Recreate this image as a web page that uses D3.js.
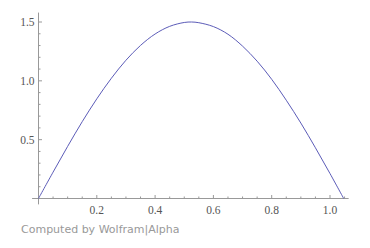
<!DOCTYPE html>
<html>
<head>
<meta charset="utf-8">
<script src="https://cdn.jsdelivr.net/npm/d3@7"></script>
<style>
  body { margin: 0; background: #fff; }
  svg { display: block; }
</style>
</head>
<body>
<div id="chart"></div>
<script>
// values
var xs = [0, 0.05, 0.1, 0.15, 0.2, 0.25, 0.3, 0.35, 0.4, 0.45, 0.5, 0.525,
          0.55, 0.6, 0.65, 0.7, 0.75, 0.8, 0.85, 0.9, 0.95, 1.0, 1.047];
var ys = [0, 0.224, 0.443, 0.653, 0.847, 1.022, 1.175, 1.301, 1.398, 1.463, 1.496, 1.5,
          1.494, 1.461, 1.396, 1.295, 1.167, 1.013, 0.835, 0.641, 0.431, 0.212, 0];

var xMajor = [0.2, 0.4, 0.6, 0.8, 1.0];
var xMinor = [0.05, 0.1, 0.15, 0.25, 0.3, 0.35, 0.45, 0.5, 0.55, 0.65, 0.7, 0.75, 0.85, 0.9, 0.95, 1.05];
var yMajor = [0.5, 1.0, 1.5];
var yMinor = [0.1, 0.2, 0.3, 0.4, 0.6, 0.7, 0.8, 0.9, 1.1, 1.2, 1.3, 1.4];

var width = 370, height = 248;
var axisColor = "#999";
var labelColor = "#555";

var svg = d3.select("#chart").append("svg")
  .attr("width", width)
  .attr("height", height);

var x = d3.scaleLinear().domain([0, 1]).range([38.5, 330]);
var y = d3.scaleLinear().domain([0, 1.5]).range([198.5, 22]);

// axis lines
svg.append("line")
  .attr("x1", x(-0.022)).attr("x2", x(1.064))
  .attr("y1", y(0)).attr("y2", y(0))
  .attr("stroke", axisColor);
svg.append("line")
  .attr("x1", x(0)).attr("x2", x(0))
  .attr("y1", y(-0.05)).attr("y2", y(1.58))
  .attr("stroke", axisColor);

// x ticks
var xg = svg.append("g");
xg.selectAll(".minor").data(xMinor).enter().append("line")
  .attr("x1", d => x(d)).attr("x2", d => x(d))
  .attr("y1", y(0)).attr("y2", y(0) - 2)
  .attr("stroke", axisColor);
xg.selectAll(".major").data(xMajor).enter().append("line")
  .attr("x1", d => x(d)).attr("x2", d => x(d))
  .attr("y1", y(0)).attr("y2", y(0) - 3.5)
  .attr("stroke", axisColor);
xg.selectAll("text").data(xMajor).enter().append("text")
  .attr("x", d => x(d))
  .attr("y", y(0) + 15)
  .attr("text-anchor", "middle")
  .attr("font-family", "Liberation Serif, serif")
  .attr("font-size", 11.5)
  .attr("fill", labelColor)
  .text(d3.format(".1f"));

// y ticks
var yg = svg.append("g");
yg.selectAll(".minor").data(yMinor).enter().append("line")
  .attr("x1", x(0)).attr("x2", x(0) + 2)
  .attr("y1", d => y(d)).attr("y2", d => y(d))
  .attr("stroke", axisColor);
yg.selectAll(".major").data(yMajor).enter().append("line")
  .attr("x1", x(0)).attr("x2", x(0) + 3.5)
  .attr("y1", d => y(d)).attr("y2", d => y(d))
  .attr("stroke", axisColor);
yg.selectAll("text").data(yMajor).enter().append("text")
  .attr("x", x(0) - 4)
  .attr("y", d => y(d) + 4)
  .attr("text-anchor", "end")
  .attr("font-family", "Liberation Serif, serif")
  .attr("font-size", 11.5)
  .attr("fill", labelColor)
  .text(d3.format(".1f"));

// the curve
var pts = xs.map((v, i) => [v, ys[i]]);
svg.append("path")
  .datum(pts)
  .attr("fill", "none")
  .attr("stroke", "#5c5cb8")
  .attr("stroke-width", 1)
  .attr("d", d3.line()
    .x(d => x(d[0]))
    .y(d => y(d[1]))
    .curve(d3.curveCatmullRom));

svg.append("text")
  .attr("x", 21)
  .attr("y", 233)
  .attr("font-family", "DejaVu Sans, sans-serif")
  .attr("font-size", 11)
  .attr("fill", "#999")
  .text("Computed by Wolfram|Alpha");
</script>
</body>
</html>
